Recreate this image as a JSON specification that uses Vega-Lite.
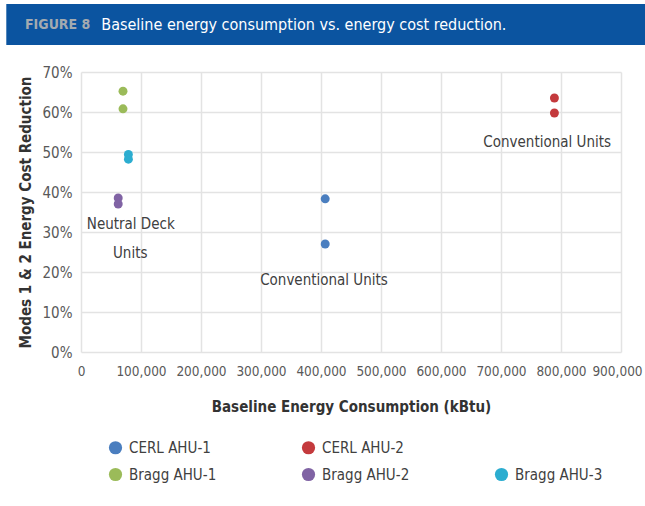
{
  "$schema": "https://vega.github.io/schema/vega-lite/v6.json",
  "padding": {"left": 6, "top": 4, "right": 0, "bottom": 0},
  "spacing": 20,
  "background": "white",
  "config": {
    "font": "'Liberation Sans Narrow', 'DejaVu Sans Condensed', Roboto, sans-serif",
    "view": {"stroke": null}
  },
  "datasets": {
    "banner": [
      {"part": "band", "label": ""},
      {"part": "figure", "label": "FIGURE 8"},
      {"part": "title", "label": "Baseline energy consumption vs. energy cost reduction."}
    ],
    "points": [
      {"unit": "CERL AHU-1", "consumption": 407000, "reduction": 0.383},
      {"unit": "CERL AHU-1", "consumption": 407000, "reduction": 0.27},
      {"unit": "CERL AHU-2", "consumption": 789000, "reduction": 0.635},
      {"unit": "CERL AHU-2", "consumption": 789000, "reduction": 0.5975},
      {"unit": "Bragg AHU-1", "consumption": 70000, "reduction": 0.652},
      {"unit": "Bragg AHU-1", "consumption": 70000, "reduction": 0.608},
      {"unit": "Bragg AHU-2", "consumption": 62000, "reduction": 0.385},
      {"unit": "Bragg AHU-2", "consumption": 62000, "reduction": 0.37},
      {"unit": "Bragg AHU-3", "consumption": 79000, "reduction": 0.494},
      {"unit": "Bragg AHU-3", "consumption": 79000, "reduction": 0.482}
    ],
    "notes": [
      {"note": "Neutral Deck", "consumption": 83000, "reduction": 0.32},
      {"note": "Units", "consumption": 82000, "reduction": 0.2475},
      {"note": "Conventional Units", "consumption": 405000, "reduction": 0.18},
      {"note": "Conventional Units", "consumption": 777000, "reduction": 0.525}
    ]
  },
  "vconcat": [
    {
      "width": 564,
      "height": 41,
      "data": {"name": "banner"},
      "layer": [
        {
          "transform": [{"filter": "datum.part === 'band'"}],
          "mark": {"type": "rect", "color": "#0b54a0", "clip": false},
          "encoding": {
            "x": {"datum": -74.7, "type": "quantitative", "scale": {"domain": [0, 564], "nice": false, "zero": false}, "axis": null},
            "x2": {"datum": 564},
            "y": {"datum": 0, "type": "quantitative", "scale": {"domain": [0, 1], "nice": false, "zero": false}, "axis": null},
            "y2": {"datum": 1}
          }
        },
        {
          "transform": [{"filter": "datum.part === 'figure'"}],
          "mark": {"type": "text", "align": "left", "baseline": "middle", "fontSize": 14, "fontWeight": "bold", "color": "#a3aab0"},
          "encoding": {
            "x": {"datum": -56, "type": "quantitative"},
            "y": {"datum": 0.5, "type": "quantitative"},
            "text": {"field": "label"}
          }
        },
        {
          "transform": [{"filter": "datum.part === 'title'"}],
          "mark": {"type": "text", "align": "left", "baseline": "middle", "fontSize": 16, "color": "white"},
          "encoding": {
            "x": {"datum": 20.3, "type": "quantitative"},
            "y": {"datum": 0.5, "type": "quantitative"},
            "text": {"field": "label"}
          }
        }
      ]
    },
    {
      "width": 540,
      "height": 280,
      "encoding": {
        "x": {
          "field": "consumption", "type": "quantitative",
          "scale": {"domain": [0, 900000], "nice": false},
          "axis": {
            "values": [0, 100000, 200000, 300000, 400000, 500000, 600000, 700000, 800000, 900000],
            "format": ",.0f",
            "labelOverlap": false,
            "labelFlush": false,
            "labelOffset": {"expr": "datum.value === 900000 ? -4 : 0"},
            "title": "Baseline Energy Consumption (kBtu)",
            "domain": false, "ticks": false,
            "grid": true, "gridColor": "#e3e3e3", "gridWidth": 1.5,
            "labelFontSize": 13.5, "labelColor": "#595959", "labelPadding": 12,
            "titleFontSize": 15, "titleFontWeight": "bold", "titleColor": "#333333", "titlePadding": 22
          }
        },
        "y": {
          "field": "reduction", "type": "quantitative",
          "scale": {"domain": [0, 0.7], "nice": false},
          "axis": {
            "values": [0, 0.1, 0.2, 0.3, 0.4, 0.5, 0.6, 0.7],
            "format": ".0%",
            "labelOverlap": false,
            "labelFlush": false,
            "title": "Modes 1 & 2 Energy Cost Reduction",
            "domain": false, "ticks": false,
            "grid": true, "gridColor": "#e3e3e3", "gridWidth": 1.5,
            "labelFontSize": 15, "labelColor": "#595959", "labelPadding": 9,
            "titleFontSize": 15, "titleFontWeight": "bold", "titleColor": "#333333", "titlePadding": 9
          }
        }
      },
      "layer": [
        {
          "data": {"name": "points"},
          "mark": {"type": "point", "filled": true, "size": 80, "opacity": 1},
          "encoding": {
            "color": {
              "field": "unit", "type": "nominal",
              "scale": {
                "domain": ["CERL AHU-1", "CERL AHU-2", " ", "Bragg AHU-1", "Bragg AHU-2", "Bragg AHU-3"],
                "range": ["#4a7ebf", "#c43a3d", "transparent", "#9bbb59", "#8063a4", "#2cadd0"]
              },
              "legend": {
                "title": null,
                "orient": "none",
                "direction": "horizontal",
                "legendX": 27,
                "legendY": 436,
                "columns": 3,
                "gridAlign": "all",
                "columnPadding": 84,
                "rowPadding": 11,
                "padding": 0,
                "symbolType": "circle",
                "symbolSize": 175,
                "symbolStrokeWidth": 0,
                "labelFontSize": 15,
                "labelColor": "#404040",
                "labelOffset": 6
              }
            }
          }
        },
        {
          "data": {"name": "notes"},
          "mark": {"type": "text", "align": "center", "baseline": "middle", "fontSize": 15, "color": "#404040"},
          "encoding": {
            "text": {"field": "note"}
          }
        }
      ]
    }
  ]
}
